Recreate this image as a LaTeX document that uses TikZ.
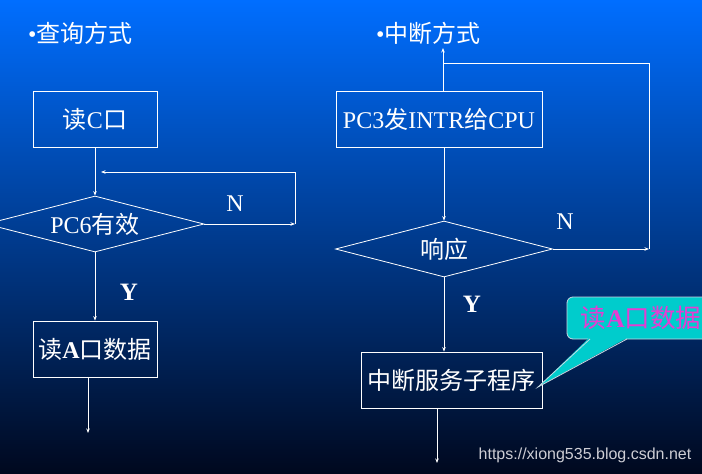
\documentclass[tikz,border=0pt]{standalone}
\usepackage{fontspec}
\setmainfont{Liberation Serif}
\newfontfamily\cjk{Noto Sans CJK SC}
\newfontfamily\wmfont{Liberation Sans}
\usetikzlibrary{shapes.geometric,arrows.meta}
\definecolor{bgtop}{RGB}{0,110,255}
\definecolor{bgmid}{RGB}{0,55,162}
\definecolor{bgbot}{RGB}{0,8,30}
\definecolor{callfill}{RGB}{0,204,204}
\definecolor{calltext}{RGB}{230,60,210}
\definecolor{callline}{RGB}{200,215,225}
\definecolor{wmcol}{RGB}{205,205,212}
\newcommand{\zh}[1]{{\cjk #1}}
\begin{document}
\begin{tikzpicture}[x=1pt,y=-1pt,
  box/.style={draw=white, line width=0.8pt, minimum height=56pt, inner sep=0pt, text=white, font=\fontsize{24}{28}\selectfont},
  decision/.style={diamond, draw=white, line width=0.8pt, aspect=3.9, minimum width=218pt, minimum height=56pt, inner sep=0pt, text=white, font=\fontsize{24}{28}\selectfont},
  flow/.style={draw=white, line width=0.8pt},
  arr/.style={flow, -{Stealth[length=4.5pt,width=3.5pt]}},
  lbl/.style={text=white, inner sep=0pt, font=\fontsize{24}{28}\selectfont}]
\useasboundingbox (0,0) rectangle (702,474);
\clip (0,0) rectangle (702,474);
\shade[top color=bgtop, middle color=bgmid, bottom color=bgbot] (0,0) rectangle (702,474);

% titles
\node[lbl, anchor=west] (t1) at (28,33) {•\zh{查询方式}};
\node[lbl, anchor=west] (t2) at (376,33) {•\zh{中断方式}};

% left: polling
\node[box, minimum width=124pt] (readC) at (95,119) {\zh{读}C\zh{口}};
\node[decision] (pc6) at (95,224) {PC6\zh{有效}};
\node[box, minimum width=124pt] (readA) at (95,349) {\zh{读}\textbf{A}\zh{口数据}};
\coordinate (nL) at (295,224);
\coordinate (loopTR) at (295,172);
\coordinate (loopEnd) at (101,172);
\coordinate (endL) at (88,433);
\draw[arr] (readC) -- (pc6);
\draw[arr] (pc6.east) -- (nL);
\draw[arr] (nL) -- (loopTR) -- (loopEnd);
\draw[arr] (pc6) -- (readA);
\draw[arr] (readA.south -| endL) -- (endL);
\node[lbl] (N1) at (235,204) {N};
\node[lbl, font=\fontsize{25}{28}\selectfont] (Y1) at (129,292) {\textbf{Y}};

% right: interrupt
\node[box, minimum width=206pt] (intr) at (439,119) {PC3\zh{发}INTR\zh{给}CPU};
\node[decision, minimum width=217pt] (resp) at (444,249) {\zh{响应}};
\node[box, minimum width=181pt] (isr) at (451.5,380) {\zh{中断服务子程序}};
\coordinate (topR) at (443,48);
\coordinate (loopL) at (443,63);
\coordinate (loopRT) at (649,63);
\coordinate (loopRB) at (649,249);
\coordinate (endR) at (437,463);
\draw[arr] (intr.north -| topR) -- (topR);
\draw[flow] (loopRB) -- (loopRT) -- (loopL);
\draw[arr] (resp.east) -- (loopRB);
\draw[arr] (intr.south -| resp.north) -- (resp.north);
\draw[arr] (resp.south) -- (resp.south |- isr.north);
\draw[arr] (isr.south -| endR) -- (endR);
\node[lbl] (N2) at (565,222) {N};
\node[lbl, font=\fontsize{25}{28}\selectfont] (Y2) at (472,304) {\textbf{Y}};

% callout
\coordinate (cTL) at (567,297);
\coordinate (cBR) at (724,339);
\coordinate (tailA) at (590,339);
\coordinate (tailB) at (627,339);
\coordinate (tip) at (538,387);
\filldraw[fill=callfill, draw=callline, line width=0.8pt, rounded corners=6pt] (cTL) rectangle (cBR);
\fill[callfill] (589.4,337.6) -- (tip) -- (627.6,337.6) -- cycle;
\draw[callline, line width=0.8pt, line join=miter] (tailA) -- (tip) -- (tailB);
\node[lbl, text=calltext, font=\fontsize{25.5}{28}\selectfont] (callt) at (641,318) {\zh{读}\textbf{A}\zh{口数据}};

% watermark
\node[inner sep=0pt, text=wmcol, font=\wmfont\fontsize{16}{18}\selectfont] (wm) at (585,455) {https://xiong535.blog.csdn.net};
\end{tikzpicture}
\end{document}
